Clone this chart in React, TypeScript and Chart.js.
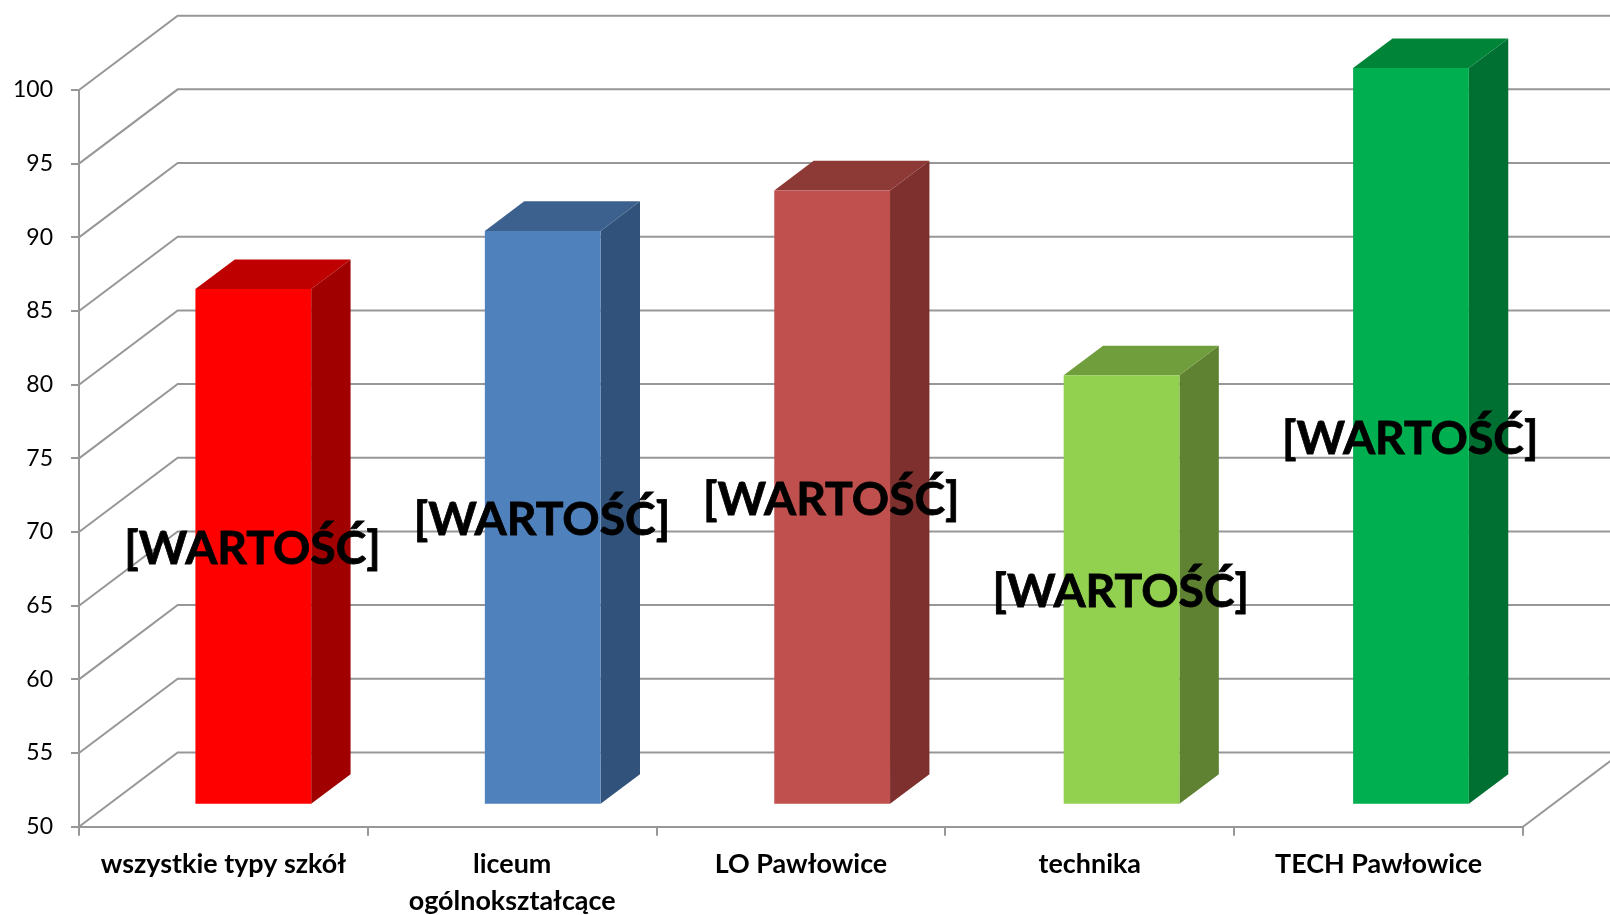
import React, { useEffect, useRef } from "react";
import { Chart, registerables } from "chart.js";

Chart.register(...registerables);

const categories: (string | string[])[] = [
  "wszystkie typy szkół",
  ["liceum", "ogólnokształcące"],
  "LO Pawłowice",
  "technika",
  "TECH Pawłowice",
];
const values = [85, 88.95, 91.7, 79.15, 100];
const dataLabels = ["[WARTOŚĆ]", "[WARTOŚĆ]", "[WARTOŚĆ]", "[WARTOŚĆ]", "[WARTOŚĆ]"];
const frontColors = ["#FF0000", "#4F81BD", "#C0504D", "#92D050", "#00B050"];
const sideColors = ["#A00000", "#31527A", "#7D302E", "#5F8132", "#006F32"];
const topColors = ["#BF0000", "#3C618E", "#8D3A37", "#719E3C", "#008538"];

const GRID = "#979797";

const plugin3d = {
  id: "plugin3d",
  beforeDatasetsDraw(chart: any) {
    const { ctx, scales, chartArea } = chart;
    const y = scales.y;
    const wallDx = 98.7;
    const wallDy = -74.3;
    ctx.save();
    ctx.strokeStyle = GRID;
    ctx.lineWidth = 2;
    ctx.beginPath();
    for (const t of y.ticks) {
      const py = y.getPixelForValue(t.value);
      ctx.moveTo(chartArea.left, py);
      ctx.lineTo(chartArea.left + wallDx, py + wallDy);
      ctx.lineTo(chart.width + 20, py + wallDy);
    }
    ctx.moveTo(chartArea.right, chartArea.bottom);
    ctx.lineTo(chartArea.right + wallDx, chartArea.bottom + wallDy);
    ctx.stroke();
    ctx.restore();

    // bars stand part-way back on the floor
    ctx.save();
    ctx.transform(1.00216, 0, 0, 1, 29.42, -21.9);
    const bars = chart.getDatasetMeta(0).data;
    const dx = 39.3;
    const dy = -29.6;
    bars.forEach((b: any, i: number) => {
      const left = b.x - b.width / 2;
      const right = b.x + b.width / 2;
      ctx.fillStyle = sideColors[i];
      ctx.beginPath();
      ctx.moveTo(right, b.y);
      ctx.lineTo(right + dx, b.y + dy);
      ctx.lineTo(right + dx, b.base + dy);
      ctx.lineTo(right, b.base);
      ctx.closePath();
      ctx.fill();
      ctx.fillStyle = topColors[i];
      ctx.beginPath();
      ctx.moveTo(left, b.y);
      ctx.lineTo(left + dx, b.y + dy);
      ctx.lineTo(right + dx, b.y + dy);
      ctx.lineTo(right, b.y);
      ctx.closePath();
      ctx.fill();
    });
  },
  afterDatasetsDraw(chart: any) {
    const { ctx } = chart;
    const bars = chart.getDatasetMeta(0).data;
    ctx.fillStyle = "#000000";
    ctx.strokeStyle = "#000000";
    ctx.lineWidth = 0.8;
    ctx.font = "700 46.2px Lato";
    ctx.textAlign = "center";
    ctx.textBaseline = "middle";
    bars.forEach((b: any, i: number) => {
      const cy = (b.y + b.base) / 2 + 3;
      ctx.fillText(dataLabels[i], b.x - 0.8, cy);
      ctx.strokeText(dataLabels[i], b.x - 0.8, cy);
    });
    ctx.restore();
  },
};

export default function App() {
  const ref = useRef<HTMLCanvasElement>(null);
  useEffect(() => {
    document.body.style.margin = "0";
    document.body.style.background = "#ffffff";
    const chart = new Chart(ref.current!, {
      type: "bar",
      data: {
        labels: categories as any,
        datasets: [
          {
            data: values,
            base: 50,
            backgroundColor: frontColors,
            borderWidth: 0,
            barPercentage: 0.4,
            categoryPercentage: 1,
            clip: false as any,
          },
        ],
      },
      options: {
        responsive: false,
        animation: false,
        layout: { padding: { top: 90, right: 87, left: 0, bottom: 0 } },
        plugins: { legend: { display: false }, title: { display: false }, tooltip: { enabled: false } },
        scales: {
          x: {
            offset: true,
            afterFit: (s: any) => {
              s.height = 88.3;
            },
            grid: {
              offset: true,
              drawOnChartArea: false,
              drawTicks: true,
              tickLength: 9,
              color: GRID,
              lineWidth: 2,
            },
            border: { color: GRID, width: 2 },
            ticks: {
              color: "#000000",
              maxRotation: 0,
              autoSkip: false,
              padding: 10.5,
              font: { family: "Lato", weight: "bold", size: 26.9, lineHeight: 1.375 },
            },
          },
          y: {
            min: 50,
            max: 100,
            afterFit: (s: any) => {
              s.width = 79;
            },
            grid: {
              drawOnChartArea: false,
              drawTicks: true,
              tickLength: 8,
              color: GRID,
              lineWidth: 2,
            },
            border: { color: GRID, width: 2 },
            ticks: {
              stepSize: 5,
              color: "#000000",
              padding: 18,
              font: { family: "Lato", size: 23 },
            },
          },
        },
      },
      plugins: [plugin3d],
    });
    return () => chart.destroy();
  }, []);
  return <canvas ref={ref} width={1610} height={915} style={{ display: "block" }} />;
}
